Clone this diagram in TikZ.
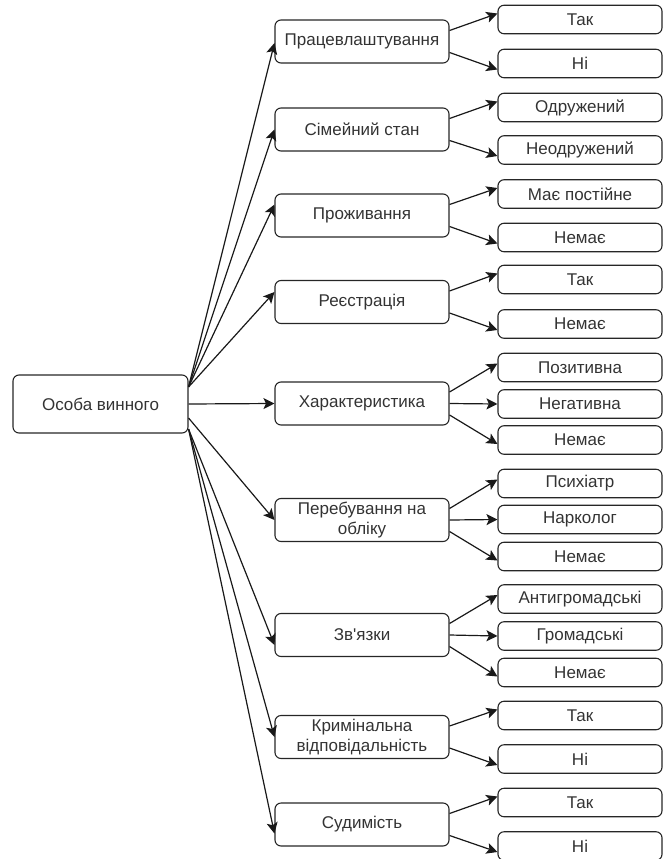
\documentclass[tikz,border=0pt]{standalone}
\usepackage{fontspec}
\setmainfont{Liberation Sans}[Ligatures=TeXOff]
\usetikzlibrary{arrows.meta}
\begin{document}
\begin{tikzpicture}[x=1pt,y=-1pt,
  box/.style={draw=black!85, line width=1.1pt, rounded corners=6pt, align=center,
    font=\fontsize{17}{20}\selectfont, text=black!80, inner sep=0pt},
  rootbox/.style={box, minimum width=175pt, minimum height=58pt},
  midbox/.style={box, minimum width=174pt, minimum height=43pt},
  leafbox/.style={box, minimum width=164pt, minimum height=28.5pt},
  arr/.style={-{Stealth[length=11pt,width=11pt,inset=2.5pt]}, line width=1.2pt, draw=black!90}]
\useasboundingbox (0,0) rectangle (663,859);

\node[rootbox] (root) at (100.5,404) {Особа винного};

\node[midbox] (m1) at (362,41.5) {Працевлаштування};
\node[midbox] (m2) at (362,129.5) {Сімейний стан};
\node[midbox] (m3) at (362,215.5) {Проживання};
\node[midbox] (m4) at (362,302) {Реєстрація};
\node[midbox] (m5) at (362,403.5) {Характеристика};
\node[midbox] (m6) at (362,520) {Перебування на\\обліку};
\node[midbox] (m7) at (362,635) {Зв'язки};
\node[midbox] (m8) at (362,737) {Кримінальна\\відповідальність};
\node[midbox] (m9) at (362,824.5) {Судимість};

\node[leafbox] (l1a) at (580,19.5) {Так};
\node[leafbox] (l1b) at (580,63.5) {Ні};
\node[leafbox] (l2a) at (580,107.5) {Одружений};
\node[leafbox] (l2b) at (580,150) {Неодружений};
\node[leafbox] (l3a) at (580,194) {Має постійне};
\node[leafbox] (l3b) at (580,237.5) {Немає};
\node[leafbox] (l4a) at (580,279.5) {Так};
\node[leafbox] (l4b) at (580,324) {Немає};
\node[leafbox] (l5a) at (580,367.5) {Позитивна};
\node[leafbox] (l5b) at (580,404) {Негативна};
\node[leafbox] (l5c) at (580,440) {Немає};
\node[leafbox] (l6a) at (580,483.5) {Психіатр};
\node[leafbox] (l6b) at (580,519.5) {Нарколог};
\node[leafbox] (l6c) at (580,556.5) {Немає};
\node[leafbox] (l7a) at (580,599) {Антигромадські};
\node[leafbox] (l7b) at (580,636) {Громадські};
\node[leafbox] (l7c) at (580,672.5) {Немає};
\node[leafbox] (l8a) at (580,715.5) {Так};
\node[leafbox] (l8b) at (580,759) {Ні};
\node[leafbox] (l9a) at (580,802.5) {Так};
\node[leafbox] (l9b) at (580,846) {Ні};

% first level
\draw[arr] ([yshift=17pt]root.east) -- ([yshift=-1.5pt]m1.west);
\draw[arr] ([yshift=17pt]root.east) -- (m2.west);
\draw[arr] ([yshift=17pt]root.east) -- ([yshift=11pt]m3.west);
\draw[arr] ([yshift=17pt]root.east) -- ([yshift=10pt]m4.west);
\draw[arr] (root.east) -- (m5.west);
\draw[arr] ([yshift=-14pt]root.east) -- (m6.west);
\draw[arr] ([yshift=-25pt]root.east) -- ([yshift=-10pt]m7.west);
\draw[arr] ([yshift=-25pt]root.east) -- (m8.west);
\draw[arr] ([yshift=-25pt]root.east) -- ([yshift=-9pt]m9.west);

% second level, two branches
\foreach \m/\a/\b in {m1/l1a/l1b, m2/l2a/l2b, m3/l3a/l3b, m4/l4a/l4b, m8/l8a/l8b, m9/l9a/l9b}{
  \draw[arr] ([yshift=11pt]\m.east) -- ([yshift=6pt]\a.west);
  \draw[arr] ([yshift=-11pt]\m.east) -- ([yshift=-6pt]\b.west);
}
% second level, three branches
\foreach \m/\a/\b/\c in {m5/l5a/l5b/l5c, m6/l6a/l6b/l6c, m7/l7a/l7b/l7c}{
  \draw[arr] ([yshift=11.5pt]\m.east) -- ([yshift=4pt]\a.west);
  \draw[arr] (\m.east) -- (\b.west);
  \draw[arr] ([yshift=-11.5pt]\m.east) -- ([yshift=-4pt]\c.west);
}
\end{tikzpicture}
\end{document}
